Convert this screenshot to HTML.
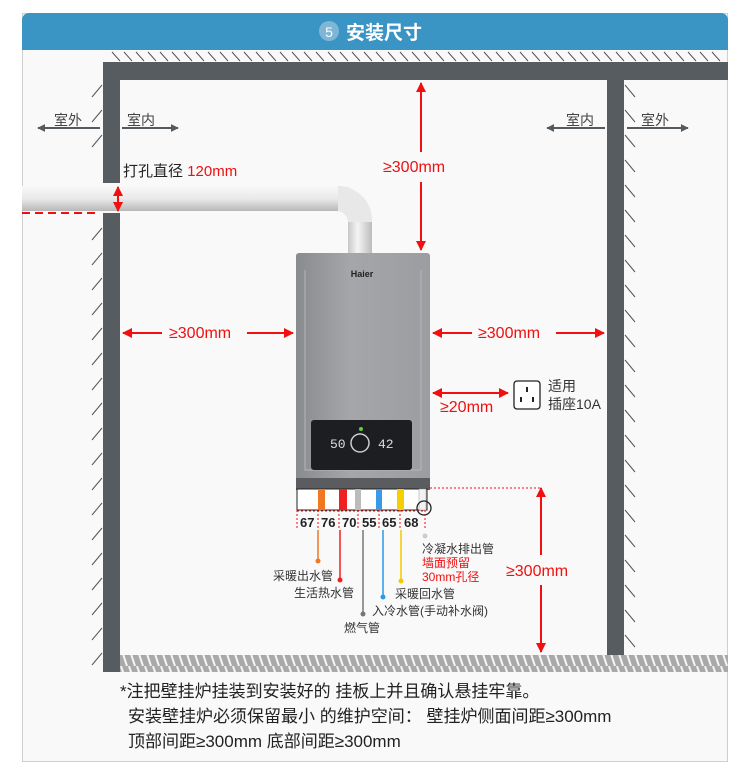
<!DOCTYPE html>
<html><head><meta charset="utf-8"><style>
body{margin:0;background:#fff;}
svg{display:block;font-family:"Liberation Sans","Noto Sans CJK SC",sans-serif;}
</style></head><body>
<svg width="750" height="770" viewBox="0 0 750 770" xmlns="http://www.w3.org/2000/svg">
<defs>
<pattern id="hatch" width="8" height="18" patternUnits="userSpaceOnUse">
<rect width="8" height="18" fill="#a9a9a9"/>
<line x1="1" y1="0" x2="7" y2="18" stroke="#f4f4f4" stroke-width="2"/>
</pattern>
<linearGradient id="pipeH" x1="0" y1="0" x2="0" y2="1">
<stop offset="0" stop-color="#f8f8f8"/><stop offset="0.5" stop-color="#eaeaea"/><stop offset="1" stop-color="#b8b8b8"/>
</linearGradient>
<linearGradient id="pipeV" x1="0" y1="0" x2="1" y2="0">
<stop offset="0" stop-color="#c8c8c8"/><stop offset="0.4" stop-color="#f4f4f4"/><stop offset="1" stop-color="#bcbcbc"/>
</linearGradient>
<linearGradient id="body" x1="0" y1="0" x2="1" y2="0">
<stop offset="0" stop-color="#8a8b8e"/><stop offset="0.4" stop-color="#a5a6a9"/><stop offset="1" stop-color="#9c9da0"/>
</linearGradient>
<marker id="ah" viewBox="0 0 10 10" refX="9" refY="5" markerWidth="5" markerHeight="5" orient="auto-start-reverse"><path d="M0,0L10,5L0,10z" fill="#f01010"/></marker>
<marker id="ag" viewBox="0 0 10 10" refX="9" refY="5" markerWidth="4" markerHeight="4" orient="auto-start-reverse"><path d="M0,0L10,5L0,10z" fill="#555a5e"/></marker>
</defs>
<rect x="22.5" y="13.5" width="705" height="748" fill="#f9f9f9" stroke="#cfcfcf"/>
<path d="M22,50 V20 a7,7 0 0 1 7,-7 H721 a7,7 0 0 1 7,7 V50 Z" fill="#3b95c4"/>
<circle cx="329" cy="31" r="10" fill="#7fb6d6"/>
<text x="329" y="37" font-size="14" fill="#fff" text-anchor="middle">5</text>
<text x="346" y="39" font-size="19" fill="#fff" font-weight="bold">安装尺寸</text>
<g stroke="#555" stroke-width="1">
<path d="M112,52l8,9M124,52l8,9M136,52l8,9M148,52l8,9M160,52l8,9M172,52l8,9M184,52l8,9M196,52l8,9M208,52l8,9M220,52l8,9M232,52l8,9M244,52l8,9M256,52l8,9M268,52l8,9M280,52l8,9M292,52l8,9M304,52l8,9M316,52l8,9M328,52l8,9M340,52l8,9M352,52l8,9M364,52l8,9M376,52l8,9M388,52l8,9M400,52l8,9M412,52l8,9M424,52l8,9M436,52l8,9M448,52l8,9M460,52l8,9M472,52l8,9M484,52l8,9M496,52l8,9M508,52l8,9M520,52l8,9M532,52l8,9M544,52l8,9M556,52l8,9M568,52l8,9M580,52l8,9M592,52l8,9M604,52l8,9M616,52l8,9M628,52l8,9M640,52l8,9M652,52l8,9M664,52l8,9M676,52l8,9M688,52l8,9M700,52l8,9M712,52l8,9"/>
<path d="M102,85l-10,12M102,110l-10,12M102,135l-10,12M102,228l-10,12M102,253l-10,12M102,278l-10,12M102,303l-10,12M102,328l-10,12M102,353l-10,12M102,378l-10,12M102,403l-10,12M102,428l-10,12M102,453l-10,12M102,478l-10,12M102,503l-10,12M102,528l-10,12M102,553l-10,12M102,578l-10,12M102,603l-10,12M102,628l-10,12M102,653l-10,12"/>
<path d="M625,85l10,12M625,110l10,12M625,135l10,12M625,160l10,12M625,185l10,12M625,210l10,12M625,235l10,12M625,260l10,12M625,285l10,12M625,310l10,12M625,335l10,12M625,360l10,12M625,385l10,12M625,410l10,12M625,435l10,12M625,460l10,12M625,485l10,12M625,510l10,12M625,535l10,12M625,560l10,12M625,585l10,12M625,610l10,12M625,635l10,12"/>
</g>
<rect x="103" y="62" width="625" height="18" fill="#575c60"/>
<rect x="103" y="62" width="17" height="121" fill="#575c60"/>
<rect x="103" y="213" width="17" height="459" fill="#575c60"/>
<rect x="607" y="80" width="17" height="575" fill="#575c60"/>
<rect x="120" y="655" width="608" height="17" fill="url(#hatch)"/>
<g font-size="14" fill="#444">
<text x="54" y="125">室外</text><text x="127" y="125">室内</text>
<text x="566" y="125">室内</text><text x="641" y="125">室外</text>
</g>
<g stroke="#555a5e" stroke-width="2">
<line x1="38" y1="128" x2="100" y2="128" marker-start="url(#ag)"/>
<line x1="122" y1="128" x2="178" y2="128" marker-end="url(#ag)"/>
<line x1="547" y1="128" x2="605" y2="128" marker-start="url(#ag)"/>
<line x1="627" y1="128" x2="688" y2="128" marker-end="url(#ag)"/>
</g>
<rect x="22" y="186" width="328" height="25" fill="url(#pipeH)"/>
<path d="M338,186 a34,34 0 0 1 34,34 V255 H348 V222 a12,12 0 0 0 -10,-11 Z" fill="#e8e8e8"/>
<rect x="348" y="222" width="24" height="33" fill="url(#pipeV)"/>
<line x1="22" y1="213" x2="100" y2="213" stroke="#f01010" stroke-width="2" stroke-dasharray="8,5"/>
<line x1="118" y1="187" x2="118" y2="211" stroke="#f01010" stroke-width="2" marker-start="url(#ah)" marker-end="url(#ah)"/>
<text x="123" y="176" font-size="15" fill="#222">打孔直径 <tspan fill="#f01010">120mm</tspan></text>
<rect x="296" y="253" width="134" height="237" rx="3" fill="url(#body)"/>
<path d="M305,270 V470 H421 V270" fill="none" stroke="#b5b6b9" stroke-width="1"/>
<rect x="296" y="478" width="134" height="12" fill="#5a5c60"/>
<text x="362" y="277" font-size="9" font-weight="bold" fill="#222" text-anchor="middle">Haier</text>
<rect x="311" y="420" width="101" height="50" rx="3" fill="#1d1e21"/>
<text x="330" y="448" font-size="13" fill="#ddd" font-family="Liberation Mono">50</text>
<circle cx="360" cy="443" r="9" fill="none" stroke="#ccc" stroke-width="1.5"/>
<text x="378" y="448" font-size="13" fill="#ddd" font-family="Liberation Mono">42</text>
<circle cx="361" cy="429" r="2" fill="#6c3"/>
<rect x="297" y="489" width="130" height="21" fill="#fff" stroke="#222" stroke-width="1"/>
<rect x="318" y="489" width="7" height="21" fill="#f07820"/>
<rect x="339" y="489" width="8" height="21" fill="#f02020"/>
<rect x="355" y="489" width="6" height="21" fill="#bbb"/>
<rect x="376" y="489" width="6" height="21" fill="#3a9ae8"/>
<rect x="397" y="489" width="7" height="21" fill="#f5d000"/>
<rect x="419" y="489" width="7" height="21" fill="#f2f2f2" stroke="#999" stroke-width="0.5"/>
<circle cx="424" cy="508" r="7" fill="none" stroke="#222" stroke-width="1.3"/>
<g stroke="#f01010" stroke-width="1" stroke-dasharray="2,2">
<line x1="297" y1="510" x2="297" y2="530"/><line x1="318" y1="510" x2="318" y2="530"/><line x1="339" y1="510" x2="339" y2="530"/><line x1="358" y1="510" x2="358" y2="530"/><line x1="379" y1="510" x2="379" y2="530"/><line x1="400" y1="510" x2="400" y2="530"/><line x1="425" y1="510" x2="425" y2="530"/>
<line x1="297" y1="511" x2="425" y2="511"/>
<line x1="430" y1="488" x2="540" y2="488"/>
</g>
<g font-size="13" font-weight="bold" fill="#222">
<text x="300" y="527">67</text><text x="321" y="527">76</text><text x="342" y="527">70</text><text x="362" y="527">55</text><text x="382" y="527">65</text><text x="404" y="527">68</text>
</g>
<g stroke-width="1.5">
<line x1="318" y1="530" x2="318" y2="561" stroke="#f07820"/><circle cx="318" cy="561" r="2.5" fill="#f07820"/>
<line x1="340" y1="530" x2="340" y2="580" stroke="#f02020"/><circle cx="340" cy="580" r="2.5" fill="#f02020"/>
<line x1="363" y1="530" x2="363" y2="614" stroke="#777"/><circle cx="363" cy="614" r="2.5" fill="#777"/>
<line x1="383" y1="530" x2="383" y2="597" stroke="#2a9ae8"/><circle cx="383" cy="597" r="2.5" fill="#2a9ae8"/>
<line x1="401" y1="530" x2="401" y2="581" stroke="#f5c800"/><circle cx="401" cy="581" r="2.5" fill="#f5c800"/>
<circle cx="425" cy="536" r="2.5" fill="#ccc"/>
</g>
<g font-size="12" fill="#333">
<text x="273" y="580">采暖出水管</text>
<text x="294" y="597">生活热水管</text>
<text x="344" y="632">燃气管</text>
<text x="372" y="615">入冷水管(手动补水阀)</text>
<text x="395" y="598">采暖回水管</text>
<text x="422" y="553">冷凝水排出管</text>
<text x="422" y="567" fill="#f01010">墙面预留</text>
<text x="422" y="581" fill="#f01010">30mm孔径</text>
</g>
<g stroke="#f01010" stroke-width="2">
<line x1="421" y1="83" x2="421" y2="152" marker-start="url(#ah)"/>
<line x1="421" y1="182" x2="421" y2="250" marker-end="url(#ah)"/>
<line x1="123" y1="333" x2="162" y2="333" marker-start="url(#ah)"/>
<line x1="247" y1="333" x2="293" y2="333" marker-end="url(#ah)"/>
<line x1="433" y1="333" x2="472" y2="333" marker-start="url(#ah)"/>
<line x1="556" y1="333" x2="604" y2="333" marker-end="url(#ah)"/>
<line x1="433" y1="393" x2="508" y2="393" marker-start="url(#ah)" marker-end="url(#ah)"/>
<line x1="541" y1="488" x2="541" y2="555" marker-start="url(#ah)"/>
<line x1="541" y1="585" x2="541" y2="652" marker-end="url(#ah)"/>
</g>
<g font-size="16" fill="#f01010">
<text x="383" y="172">≥300mm</text>
<text x="169" y="338">≥300mm</text>
<text x="478" y="338">≥300mm</text>
<text x="440" y="412">≥20mm</text>
<text x="506" y="576">≥300mm</text>
</g>
<rect x="514" y="381" width="26" height="28" rx="3" fill="#fff" stroke="#222" stroke-width="1.3"/>
<rect x="526" y="387" width="2" height="5" fill="#222"/><rect x="520" y="397" width="2" height="5" fill="#222"/><rect x="532" y="397" width="2" height="5" fill="#222"/>
<g font-size="14" fill="#333"><text x="548" y="391">适用</text><text x="548" y="409">插座10A</text></g>
<g font-size="17" fill="#222">
<text x="120" y="697">*注把壁挂炉挂装到安装好的 挂板上并且确认悬挂牢靠。</text>
<text x="128" y="722">安装壁挂炉必须保留最小 的维护空间：  壁挂炉侧面间距≥300mm</text>
<text x="128" y="747">顶部间距≥300mm  底部间距≥300mm</text>
</g>
</svg>
</body></html>
